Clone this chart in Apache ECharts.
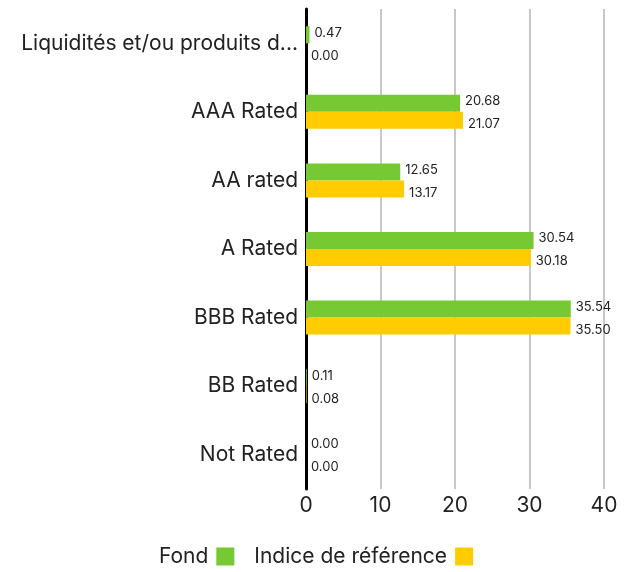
<!DOCTYPE html>
<html><head><meta charset="utf-8">
<script src="https://cdn.jsdelivr.net/npm/echarts@6/dist/echarts.min.js"></script>
<style>html,body{margin:0;padding:0;background:#fff}#c{width:632px;height:572px}</style>
</head><body><div id="c"></div>
<script>
const categories = ["Liquidités et/ou produits d...", "AAA Rated", "AA rated", "A Rated", "BBB Rated", "BB Rated", "Not Rated"];
const fond = [0.47, 20.68, 12.65, 30.54, 35.54, 0.11, 0.00];
const indice = [0.00, 21.07, 13.17, 30.18, 35.50, 0.08, 0.00];
const seriesNames = ["Fond", "Indice de référence"];
const xTicks = [0, 10, 20, 30, 40];

const chart = echarts.init(document.getElementById('c'));
const font = 'Inter, "Noto Sans", sans-serif';
function lbl(dy) {
  return {show: true, position: 'right', distance: 5, offset: [0, dy], fontSize: 13, color: '#222', fontFamily: font,
    formatter: p => p.value.toFixed(2)};
}
chart.setOption({
  animation: false,
  textStyle: {fontFamily: font},
  grid: {left: 306, right: 28, top: 9, bottom: 83, containLabel: false},
  legend: {
    bottom: 0, left: 'center', align: 'right', itemWidth: 18, itemHeight: 18, itemGap: 20,
    icon: 'rect', textStyle: {fontSize: 21, color: '#222', fontFamily: font, padding: [0, 3, 0, 0]},
    data: seriesNames
  },
  xAxis: {
    type: 'value', min: xTicks[0], max: xTicks[xTicks.length - 1], interval: 10,
    axisLine: {show: false}, axisTick: {show: false},
    splitLine: {show: true, lineStyle: {color: '#c8c8c8', width: 2}},
    axisLabel: {fontSize: 21, color: '#222', margin: 6, fontFamily: font}
  },
  yAxis: {
    type: 'category', inverse: true, data: categories,
    axisLine: {show: true, lineStyle: {color: '#000', width: 3}},
    axisTick: {show: false},
    axisLabel: {fontSize: 21, color: '#222', margin: 8, fontFamily: font}
  },
  series: [
    {name: seriesNames[0], type: 'bar', data: fond, barWidth: 17, barGap: '0%',
     itemStyle: {color: '#76c933'}, label: lbl(-2)},
    {name: seriesNames[1], type: 'bar', data: indice, barWidth: 17,
     itemStyle: {color: '#ffcc00'}, label: lbl(4)}
  ]
});
</script></body></html>
